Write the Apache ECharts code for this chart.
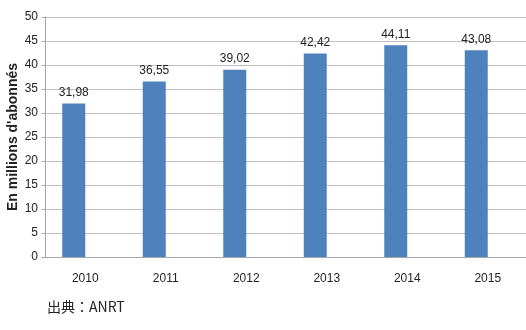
<!DOCTYPE html>
<html>
<head>
<meta charset="utf-8">
<script src="https://cdn.jsdelivr.net/npm/echarts@6/dist/echarts.min.js"></script>
<style>html,body{margin:0;padding:0;background:#fff}#c{width:526px;height:330px}</style>
</head>
<body>
<div id="c"></div>
<script>
var categories = ['2010', '2011', '2012', '2013', '2014', '2015'];
var subscribers = [31.98, 36.55, 39.02, 42.42, 44.11, 43.08];
var spacer = [null, null, null, null, null, null];
var yTitle = "En millions d'abonnés";
var sourceText = '出典：ANRT';

var chart = echarts.init(document.getElementById('c'), null, {renderer: 'canvas'});
var font = '"Liberation Sans", "DejaVu Sans", sans-serif';
chart.setOption({
  animation: false,
  backgroundColor: '#fff',
  textStyle: {fontFamily: font},
  grid: {left: 45, right: -2, top: 17, bottom: 73, containLabel: false, outerBoundsMode: 'none'},
  graphic: [{
    type: 'text', left: 47, top: 300,
    style: {text: sourceText, fontSize: 14, fill: '#222', fontFamily: '"Noto Sans CJK JP", ' + font}
  }],
  xAxis: {
    type: 'category',
    data: categories,
    axisLine: {lineStyle: {color: '#a6a6a6', width: 1}},
    axisTick: {show: false},
    axisLabel: {color: '#222', fontSize: 12, margin: 16}
  },
  yAxis: {
    type: 'value',
    min: 0, max: 50, interval: 5,
    name: yTitle,
    nameLocation: 'middle',
    nameGap: 25,
    nameMoveOverlap: false,
    nameTextStyle: {fontWeight: 'bold', fontSize: 14, color: '#222'},
    axisLine: {show: true, lineStyle: {color: '#a6a6a6'}},
    axisTick: {show: true, length: 3, lineStyle: {color: '#a6a6a6'}},
    axisLabel: {color: '#222', fontSize: 12, margin: 7},
    splitLine: {lineStyle: {color: '#bfbfbf', width: 1}}
  },
  series: [{
    type: 'bar',
    data: subscribers,
    barWidth: 23,
    barGap: '0%',
    itemStyle: {color: '#4f81bd'},
    label: {
      show: true, position: 'top', distance: 5,
      color: '#222', fontSize: 12,
      formatter: function (p) { return p.value.toFixed(2).replace('.', ','); }
    }
  }, {
    type: 'bar',
    data: spacer,
    barWidth: 23,
    barGap: '0%',
    silent: true
  }]
});
</script>
</body>
</html>
